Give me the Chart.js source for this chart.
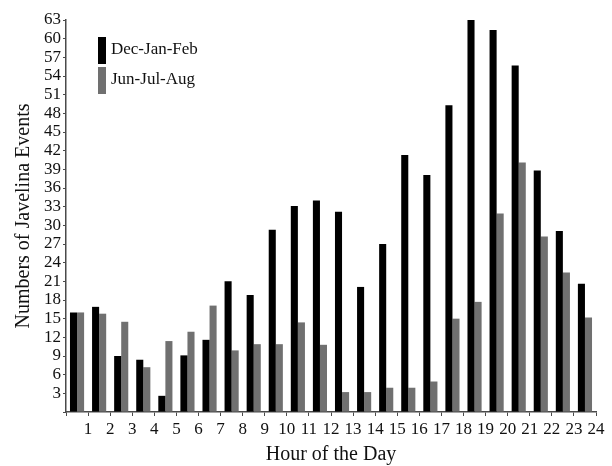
<!DOCTYPE html>
<html>
<head>
<meta charset="utf-8">
<script src="https://cdn.jsdelivr.net/npm/chart.js@4/dist/chart.umd.min.js"></script>
<style>
  html, body { margin: 0; padding: 0; background: #fff; }
  #wrap { width: 612px; height: 466px; }
</style>
</head>
<body>
<div id="wrap"><canvas id="c" width="612" height="466"></canvas></div>
<script>
// Hour of the day (1..24)
const hours = [1,2,3,4,5,6,7,8,9,10,11,12,13,14,15,16,17,18,19,20,21,22,23,24];
// Javelina events per hour, winter months
const decJanFeb = [16, 16.9, 9.0, 8.4, 2.6, 9.1, 11.6, 21.0, 18.8, 29.3, 33.1, 34.0,
                   32.2, 20.1, 27.0, 41.3, 38.1, 49.3, 63.0, 61.4, 55.7, 38.8, 29.1, 20.6];
// Javelina events per hour, summer months
const junJulAug = [16, 15.8, 14.5, 7.2, 11.4, 12.9, 17.1, 9.9, 10.9, 10.9, 14.4, 10.8,
                   3.2, 3.2, 3.9, 3.9, 4.9, 15.0, 17.7, 31.9, 40.1, 28.2, 22.4, 15.2];
const seriesNames = ['Dec-Jan-Feb', 'Jun-Jul-Aug'];
const yMax = 63, yStep = 3;

const SERIF = '"Liberation Serif", "Times New Roman", serif';
const BLACK = '#000000';
const GRAY = '#707070';
const AXIS = '#4a4a4a';

// each hour's pair of bars sits in the interval (h-1, h)
const toPoints = vals => vals.map((v, i) => ({ x: hours[i] - 0.5, y: v }));

// legend drawn inside the plot area, top-left
const insideLegend = {
  id: 'insideLegend',
  afterDraw(chart) {
    const { ctx, chartArea } = chart;
    const x0 = chartArea.left + 32;
    const y0 = chartArea.top + 17;
    ctx.save();
    ctx.font = '17px ' + SERIF;
    ctx.textBaseline = 'middle';
    chart.data.datasets.forEach((ds, i) => {
      const y = y0 + i * 30;
      ctx.fillStyle = ds.backgroundColor;
      ctx.fillRect(x0, y, 8, 27);
      ctx.fillStyle = '#111';
      ctx.fillText(ds.label, x0 + 13, y + 13);
    });
    ctx.restore();
  }
};

new Chart(document.getElementById('c'), {
  type: 'bar',
  data: {
    datasets: [
      { label: seriesNames[0], data: toPoints(decJanFeb), backgroundColor: BLACK },
      { label: seriesNames[1], data: toPoints(junJulAug), backgroundColor: GRAY }
    ]
  },
  options: {
    responsive: false,
    animation: false,
    devicePixelRatio: 1,
    layout: { padding: { top: 20, right: 16, left: 0, bottom: 0 } },
    datasets: { bar: { categoryPercentage: 0.64, barPercentage: 1.0, borderWidth: 0 } },
    plugins: { legend: { display: false }, tooltip: { enabled: false } },
    scales: {
      x: {
        type: 'linear',
        offset: false,
        min: 0,
        max: 24,
        afterFit(scale) { scale.height = 54; },
        afterBuildTicks(scale) { scale.ticks = [0].concat(hours).map(v => ({ value: v })); },
        ticks: {
          autoSkip: false,
          maxRotation: 0,
          padding: 3,
          color: '#111',
          font: { family: SERIF, size: 17 },
          callback: v => (v === 0 ? '' : String(v))
        },
        grid: { display: true, drawOnChartArea: false, offset: false, tickLength: 4, color: AXIS, lineWidth: 1 },
        border: { display: true, color: AXIS, width: 1.5 },
        title: {
          display: true,
          text: 'Hour of the Day',
          color: '#111',
          font: { family: SERIF, size: 20, lineHeight: 1.1 },
          padding: { top: 0, bottom: 0 }
        }
      },
      y: {
        min: 0,
        max: yMax,
        afterFit(scale) { scale.width = 66; },
        afterBuildTicks(scale) {
          const t = [];
          for (let v = 0; v <= yMax; v += yStep) t.push({ value: v });
          scale.ticks = t;
        },
        ticks: {
          autoSkip: false,
          padding: 2,
          color: '#111',
          font: { family: SERIF, size: 17, lineHeight: 1 },
          callback: v => (v === 0 ? '' : String(v))
        },
        grid: { display: true, drawOnChartArea: false, tickLength: 3, color: AXIS, lineWidth: 1 },
        border: { display: true, color: AXIS, width: 1.5 },
        title: {
          display: true,
          text: 'Numbers of Javelina Events',
          color: '#111',
          font: { family: SERIF, size: 20, lineHeight: 1.1 },
          padding: { top: 13, bottom: 0 }
        }
      }
    }
  },
  plugins: [insideLegend]
});
</script>
</body>
</html>
